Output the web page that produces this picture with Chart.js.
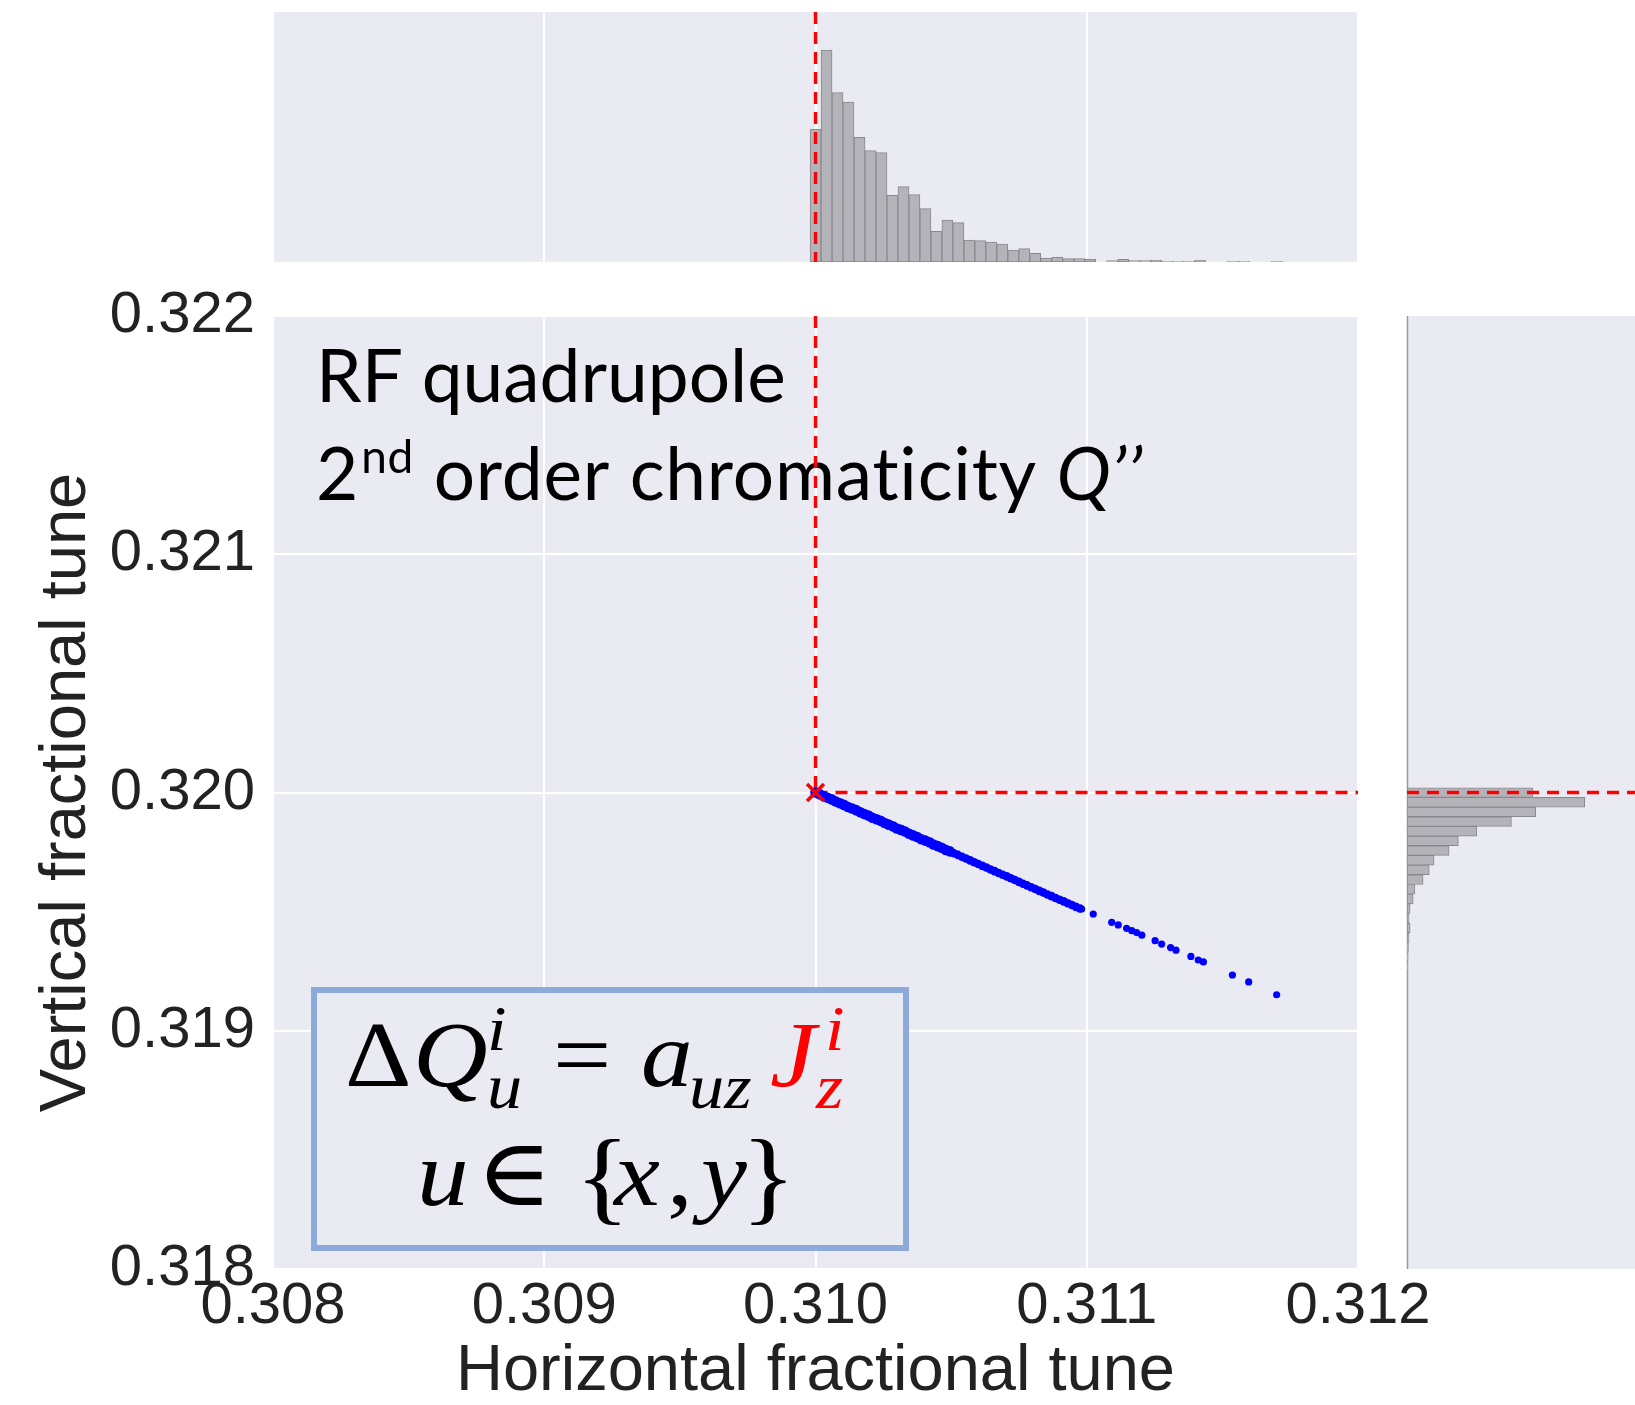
<!DOCTYPE html>
<html lang="en">
<head>
  <meta charset="UTF-8" />
  <title>RF quadrupole tune spread</title>
  <script src="https://cdn.jsdelivr.net/npm/chart.js"></script>
  <style>
    html, body { margin: 0; padding: 0; background: #ffffff; overflow: hidden; }
    canvas { position: absolute; }
    #topHist { left: 0; top: 0; }
    #tuneScatter { left: 0; top: 262px; }
    #rightHist { left: 1400px; top: 280px; }
  </style>
</head>
<body>

  <canvas id="topHist" width="1440" height="290"></canvas>
  <canvas id="tuneScatter" width="1440" height="1143"></canvas>
  <canvas id="rightHist" width="235" height="1125"></canvas>

  <script>
    // axis ranges and ticks
    const qxRange = [0.308, 0.312];
    const qyRange = [0.318, 0.322];
    const tuneTickStep = 0.001;

    // bare machine tunes
    const bareQx = 0.310;
    const bareQy = 0.320;

    // particle tunes: small synchrotron amplitudes (thick core of the footprint)
    const coreQx = [0.310000, 0.310015, 0.310030, 0.310045, 0.310060, 0.310075, 0.310090, 0.310105, 0.310120, 0.310135,
                    0.310150, 0.310165, 0.310180, 0.310195, 0.310210, 0.310225, 0.310240, 0.310255, 0.310270, 0.310285,
                    0.310300, 0.310315, 0.310330, 0.310345, 0.310360, 0.310375, 0.310390, 0.310405, 0.310420, 0.310435,
                    0.310450, 0.310465, 0.310480, 0.310495];
    const coreQy = [0.320000, 0.319993, 0.319984, 0.319978, 0.319971, 0.319962, 0.319955, 0.319948, 0.319939, 0.319933,
                    0.319926, 0.319917, 0.319910, 0.319903, 0.319894, 0.319888, 0.319881, 0.319872, 0.319865, 0.319858,
                    0.319849, 0.319843, 0.319836, 0.319827, 0.319820, 0.319813, 0.319804, 0.319798, 0.319791, 0.319782,
                    0.319775, 0.319768, 0.319759, 0.319753];

    // particle tunes: intermediate amplitudes
    const midQx = [0.310510, 0.310525, 0.310540, 0.310555, 0.310570, 0.310585, 0.310600, 0.310615, 0.310630, 0.310645,
                   0.310660, 0.310675, 0.310690, 0.310705, 0.310720, 0.310735, 0.310750, 0.310765, 0.310780, 0.310795,
                   0.310810, 0.310825, 0.310840, 0.310855, 0.310870, 0.310885, 0.310900, 0.310915, 0.310930, 0.310945,
                   0.310960, 0.310975];
    const midQy = [0.319745, 0.319738, 0.319730, 0.319723, 0.319715, 0.319707, 0.319700, 0.319692, 0.319685, 0.319677,
                   0.319670, 0.319662, 0.319655, 0.319648, 0.319640, 0.319633, 0.319625, 0.319617, 0.319610, 0.319602,
                   0.319595, 0.319587, 0.319580, 0.319572, 0.319565, 0.319557, 0.319550, 0.319543, 0.319535, 0.319528,
                   0.319520, 0.319513];

    // particle tunes: sparse tail (large synchrotron amplitudes)
    const tailQx = [0.310981, 0.311024, 0.311092, 0.311116, 0.311147, 0.311166, 0.311184, 0.311203, 0.311252, 0.311276,
                    0.311309, 0.311329, 0.311384, 0.311411, 0.311430, 0.311537, 0.311597, 0.311700];
    const tailQy = [0.319511, 0.319490, 0.319455, 0.319444, 0.319430, 0.319420, 0.319412, 0.319401, 0.319378, 0.319364,
                    0.319349, 0.319338, 0.319312, 0.319297, 0.319289, 0.319234, 0.319205, 0.319151];

    // horizontal tune histogram
    const qxBinStart = 0.30998;
    const qxBinWidth = 0.0000405;
    const qxHistCounts = [199, 318, 254, 240, 187, 167, 164, 100, 113, 101, 80, 46, 63, 59, 33, 32, 30, 27, 18, 20,
                          13, 6, 7, 5, 5, 4, 0, 2, 4, 2, 2, 3, 1, 1, 1, 3, 0, 0, 1, 1, 0, 0, 1];
    const qxCountMax = 375;

    // vertical tune histogram (bins run downwards from the top edge)
    const qyBinTop = 0.32002;
    const qyBinWidth = 0.0000406;
    const qyHistCounts = [368, 519, 376, 305, 204, 150, 123, 79, 65, 47, 23, 18, 9, 6, 9, 6, 4, 3, 2];
    const qyCountMax = 666;

    const captionLines = ['RF quadrupole', '2', 'nd', ' order chromaticity ', 'Q\u2019\u2019'];

    const axisFont = '"Liberation Sans", Arial, sans-serif';
    const mathFont = '"Liberation Serif", "DejaVu Serif", serif';
    const captionFont = 'Lato, "Open Sans", sans-serif';
    const textColor = '#222222';
    const panelColor = '#eaeaf2';
    const barFill = '#b3b3b9';
    const barEdge = '#88888d';
    const tuneBlue = '#0000ff';

    const qxBinCenters = qxHistCounts.map((_, i) => qxBinStart + qxBinWidth * (i + 0.5));
    const qyBinCenters = qyHistCounts.map((_, i) => qyBinTop - qyBinWidth * (i + 0.5));

    const panelBackground = {
      id: 'panelBackground',
      beforeDraw(chart) {
        const { ctx, chartArea: a } = chart;
        ctx.save();
        ctx.fillStyle = panelColor;
        ctx.fillRect(a.left, a.top, a.right - a.left, a.bottom - a.top);
        ctx.restore();
      }
    };

    function redDash(ctx) {
      ctx.strokeStyle = '#ff0000';
      ctx.lineWidth = 3.4;
      ctx.setLineDash([12, 8]);
    }

    // math glyphs are slightly widened to get closer to a TeX look
    function mathText(ctx, str, x, y, size, style, color) {
      ctx.save();
      ctx.font = `${style} ${size}px ${mathFont}`;
      ctx.fillStyle = color || '#000000';
      ctx.translate(x, y);
      ctx.scale(1.1, 1);
      ctx.fillText(str, 0, 0);
      ctx.restore();
    }

    // caption, formula box and the bare-tune guide lines
    const tuneDecor = {
      id: 'tuneDecor',
      beforeDatasetsDraw(chart) {
        const { ctx, chartArea: a, scales: { x, y } } = chart;
        ctx.save();
        ctx.textBaseline = 'alphabetic';
        ctx.textAlign = 'left';

        ctx.fillStyle = '#000000';
        ctx.font = `73px ${captionFont}`;
        ctx.fillText(captionLines[0], a.left + 43, a.top + 86);

        ctx.letterSpacing = '0.8px';
        let cx = a.left + 43;
        ctx.fillText(captionLines[1], cx, a.top + 184);
        cx += ctx.measureText(captionLines[1]).width + 2;
        ctx.font = `46px ${captionFont}`;
        ctx.fillText(captionLines[2], cx, a.top + 157);
        cx += ctx.measureText(captionLines[2]).width;
        ctx.font = `73px ${captionFont}`;
        ctx.fillText(captionLines[3], cx, a.top + 184);
        cx += ctx.measureText(captionLines[3]).width;
        ctx.font = `italic 73px ${captionFont}`;
        ctx.fillText(captionLines[4], cx, a.top + 184);
        ctx.letterSpacing = '0px';

        // formula box
        const bx = a.left + 41, by = a.top + 674, bw = 592, bh = 258;
        ctx.fillStyle = panelColor;
        ctx.fillRect(bx, by, bw, bh);
        ctx.strokeStyle = '#8eaadb';
        ctx.lineWidth = 6;
        ctx.strokeRect(bx, by, bw, bh);

        const l1 = a.top + 770, sup = a.top + 734, sub = a.top + 792;
        mathText(ctx, '\u0394', a.left + 72, l1, 94, 'normal');
        mathText(ctx, 'Q', a.left + 140, l1, 94, 'italic');
        mathText(ctx, 'i', a.left + 214, sup, 64, 'italic');
        mathText(ctx, 'u', a.left + 214, sub, 64, 'italic');
        mathText(ctx, '=', a.left + 280, l1, 94, 'normal');
        mathText(ctx, 'a', a.left + 368, l1, 94, 'italic');
        mathText(ctx, 'uz', a.left + 416, sub, 64, 'italic');
        mathText(ctx, 'J', a.left + 497, l1, 94, 'italic', '#ff0000');
        mathText(ctx, 'i', a.left + 552, sup, 64, 'italic', '#ff0000');
        mathText(ctx, 'z', a.left + 543, sub, 64, 'italic', '#ff0000');

        const l2 = a.top + 889;
        mathText(ctx, 'u', a.left + 144, l2, 94, 'italic');
        mathText(ctx, '\u2208', a.left + 203, l2, 94, 'normal');
        mathText(ctx, '{', a.left + 302, l2 + 6, 104, 'normal');
        mathText(ctx, 'x', a.left + 341, l2, 94, 'italic');
        mathText(ctx, ',', a.left + 394, l2, 94, 'normal');
        mathText(ctx, 'y', a.left + 428, l2, 94, 'italic');
        mathText(ctx, '}', a.left + 468, l2 + 6, 104, 'normal');

        // guide lines through the bare tune
        const px = x.getPixelForValue(bareQx);
        const py = y.getPixelForValue(bareQy);
        redDash(ctx);
        ctx.beginPath();
        ctx.moveTo(px, a.top);
        ctx.lineTo(px, py);
        ctx.stroke();
        ctx.beginPath();
        ctx.moveTo(px, py);
        ctx.lineTo(a.right, py);
        ctx.stroke();
        ctx.restore();
      }
    };

    const qxGuide = {
      id: 'qxGuide',
      afterDatasetsDraw(chart) {
        const { ctx, chartArea: a, scales: { x } } = chart;
        const px = x.getPixelForValue(bareQx);
        ctx.save();
        redDash(ctx);
        ctx.beginPath();
        ctx.moveTo(px, a.top);
        ctx.lineTo(px, a.bottom);
        ctx.stroke();
        ctx.restore();
      }
    };

    const qyGuide = {
      id: 'qyGuide',
      beforeDatasetsDraw(chart) {
        const { ctx, chartArea: a } = chart;
        ctx.save();
        ctx.strokeStyle = '#9a9a9e';
        ctx.lineWidth = 1.5;
        ctx.beginPath();
        ctx.moveTo(a.left + 0.5, a.top);
        ctx.lineTo(a.left + 0.5, a.bottom);
        ctx.stroke();
        ctx.restore();
      },
      afterDatasetsDraw(chart) {
        const { ctx, chartArea: a, scales: { y } } = chart;
        const py = y.getPixelForValue(bareQy);
        ctx.save();
        redDash(ctx);
        ctx.beginPath();
        ctx.moveTo(a.left, py);
        ctx.lineTo(a.right, py);
        ctx.stroke();
        ctx.restore();
      }
    };

    const gridStyle = { color: '#ffffff', lineWidth: 2, drawTicks: false, offset: false };
    const toPoints = (qx, qy) => qx.map((q, i) => ({ x: q, y: qy[i] }));

    // main tune footprint
    new Chart(document.getElementById('tuneScatter'), {
      type: 'scatter',
      data: {
        datasets: [
          {
            data: [{ x: bareQx, y: bareQy }],
            pointStyle: 'crossRot',
            pointRadius: 12,
            borderColor: '#ff0000',
            backgroundColor: '#ff0000',
            borderWidth: 3.5
          },
          { data: toPoints(tailQx, tailQy), pointRadius: 3.6, backgroundColor: tuneBlue, borderWidth: 0 },
          { data: toPoints(midQx, midQy), pointRadius: 4.3, backgroundColor: tuneBlue, borderWidth: 0 },
          { data: toPoints(coreQx, coreQy), pointRadius: 5.3, backgroundColor: tuneBlue, borderWidth: 0 }
        ]
      },
      options: {
        responsive: false,
        animation: false,
        layout: { padding: { left: 0, right: 82, top: 54, bottom: 0 } },
        plugins: { legend: { display: false }, tooltip: { enabled: false } },
        scales: {
          x: {
            type: 'linear',
            min: qxRange[0],
            max: qxRange[1],
            ticks: {
              stepSize: tuneTickStep,
              callback: v => v.toFixed(3),
              font: { family: axisFont, size: 58 },
              color: textColor,
              padding: 3,
              maxRotation: 0,
              autoSkip: false
            },
            grid: gridStyle,
            border: { display: false },
            title: {
              display: true,
              text: 'Horizontal fractional tune',
              font: { family: axisFont, size: 65, lineHeight: 1 },
              color: textColor,
              padding: { top: 0, bottom: 0 }
            },
            afterFit: s => { s.height = 136; }
          },
          y: {
            type: 'linear',
            min: qyRange[0],
            max: qyRange[1],
            ticks: {
              stepSize: tuneTickStep,
              callback: v => v.toFixed(3),
              font: { family: axisFont, size: 58 },
              color: textColor,
              padding: 18
            },
            grid: gridStyle,
            border: { display: false },
            title: {
              display: true,
              text: 'Vertical fractional tune',
              font: { family: axisFont, size: 65, lineHeight: 1 },
              color: textColor,
              padding: { top: 35, bottom: 0 }
            },
            afterFit: s => { s.width = 273; }
          }
        }
      },
      plugins: [panelBackground, tuneDecor]
    });

    // horizontal tune distribution
    new Chart(document.getElementById('topHist'), {
      type: 'bar',
      data: {
        datasets: [{
          data: qxBinCenters.map((c, i) => ({ x: c, y: qxHistCounts[i] })),
          backgroundColor: barFill,
          borderColor: barEdge,
          borderWidth: 1,
          borderSkipped: false,
          barPercentage: 1,
          categoryPercentage: 1
        }]
      },
      options: {
        responsive: false,
        animation: false,
        layout: { padding: { left: 273, right: 82, top: 12, bottom: 28 } },
        plugins: { legend: { display: false }, tooltip: { enabled: false } },
        scales: {
          x: {
            type: 'linear',
            offset: false,
            min: qxRange[0],
            max: qxRange[1],
            ticks: { display: false, stepSize: tuneTickStep },
            grid: gridStyle,
            border: { display: false },
            afterFit: s => { s.height = 0; }
          },
          y: { display: false, min: 0, max: qxCountMax }
        }
      },
      plugins: [panelBackground, qxGuide]
    });

    // vertical tune distribution
    new Chart(document.getElementById('rightHist'), {
      type: 'bar',
      data: {
        datasets: [{
          data: qyBinCenters.map((c, i) => ({ x: qyHistCounts[i], y: c })),
          backgroundColor: barFill,
          borderColor: barEdge,
          borderWidth: 1,
          borderSkipped: false,
          barPercentage: 1,
          categoryPercentage: 1
        }]
      },
      options: {
        indexAxis: 'y',
        responsive: false,
        animation: false,
        layout: { padding: { left: 7, right: 0, top: 36, bottom: 136 } },
        plugins: { legend: { display: false }, tooltip: { enabled: false } },
        scales: {
          x: { type: 'linear', display: false, min: 0, max: qyCountMax },
          y: { type: 'linear', display: false, offset: false, min: qyRange[0], max: qyRange[1] }
        }
      },
      plugins: [panelBackground, qyGuide]
    });
  </script>

</body>
</html>
